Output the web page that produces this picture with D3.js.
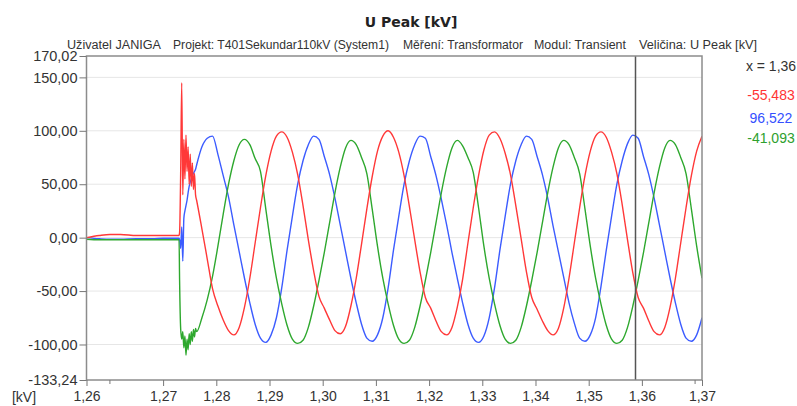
<!DOCTYPE html>
<html><head><meta charset="utf-8">
<script src="https://cdn.jsdelivr.net/npm/d3@7"></script>
<style>body{margin:0;background:#fff} svg{display:block}</style>
</head><body>
<svg id="c" width="797" height="406"></svg>
<script>
// ---- data ----
const timeSec = [
  1.2556, 1.2580, 1.2600, 1.2620, 1.2650, 1.2680, 1.2700, 1.2720, 1.2730,
  1.2731, 1.2733, 1.2735, 1.2737, 1.2739, 1.2741, 1.2743, 1.2745, 1.2747, 1.2749, 1.2751, 1.2753, 1.2755, 1.2757, 1.2759, 1.2761,
  1.2763, 1.2773, 1.2783, 1.2793, 1.2803, 1.2813, 1.2823, 1.2833, 1.2843, 1.2853,
  1.2863, 1.2873, 1.2883, 1.2893, 1.2903, 1.2913, 1.2923, 1.2933, 1.2943, 1.2953,
  1.2963, 1.2973, 1.2983, 1.2993, 1.3003, 1.3013, 1.3023, 1.3033, 1.3043, 1.3053,
  1.3063, 1.3073, 1.3083, 1.3093, 1.3103, 1.3113, 1.3123, 1.3133, 1.3143, 1.3153,
  1.3163, 1.3173, 1.3183, 1.3193, 1.3203, 1.3213, 1.3223, 1.3233, 1.3243, 1.3253,
  1.3263, 1.3273, 1.3283, 1.3293, 1.3303, 1.3313, 1.3323, 1.3333, 1.3343, 1.3353,
  1.3363, 1.3373, 1.3383, 1.3393, 1.3403, 1.3413, 1.3423, 1.3433, 1.3443, 1.3453,
  1.3463, 1.3473, 1.3483, 1.3493, 1.3503, 1.3513, 1.3523, 1.3533, 1.3543, 1.3553,
  1.3563, 1.3573, 1.3583, 1.3593, 1.3603, 1.3613, 1.3623, 1.3633, 1.3643, 1.3653,
  1.3663, 1.3673, 1.3683, 1.3693, 1.3703, 1.3713
];
const phaseRed = [
  0, 2, 3, 3, 2, 2, 2, 2, 2,
  5, 60, 145, 40, 92, 55, 96, 62, 85, 50, 78, 48, 70, 45, 60, 40,
  35, 8, -20, -48, -64, -77, -87, -91, -84, -65, -38, -5, 28, 58, 81, 95, 99, 94, 80, 59,
  30, -2, -31, -55, -66, -77, -87, -90, -83, -64, -38, -6, 27, 57, 81, 95, 100, 94, 80, 58,
  29, -2, -32, -56, -66, -78, -88, -91, -84, -65, -39, -5, 28, 58, 82, 96, 99, 93, 79, 59,
  30, -1, -32, -56, -67, -78, -87, -91, -85, -66, -38, -5, 28, 58, 81, 95, 99, 94, 80, 60,
  31, -2, -33, -56, -66, -78, -88, -91, -84, -65, -38, -5, 28, 58, 81, 95
];
const phaseBlue = [
  0, -1, -1.5, -1.5, -1, -1, -0.5, -0.5, -0.5,
  -2, -10, 10, -22, 18, 25, 30, 35, 42, 48, 52, 55, 58, 60, 62, 64,
  68, 85, 93, 95, 78, 58, 38, 12, -13, -38, -61, -81, -94, -98, -91, -75, -47, -12, 20, 50,
  72, 87, 95, 92, 76, 59, 37, 12, -13, -38, -61, -81, -94, -97, -91, -75, -47, -12, 20, 50,
  72, 87, 95, 93, 76, 58, 36, 12, -14, -38, -61, -81, -94, -98, -92, -75, -47, -12, 20, 50,
  72, 87, 95, 92, 76, 59, 37, 11, -13, -37, -61, -80, -94, -97, -91, -75, -46, -12, 20, 50,
  72, 88, 96, 93, 76, 59, 37, 12, -13, -38, -61, -81, -94, -97, -91, -75
];
const phaseGreen = [
  -1.5, -2, -2, -2, -2, -2, -2, -2, -2,
  -40, -85, -95, -88, -103, -92, -110, -95, -105, -90, -100, -88, -97, -86, -93, -85,
  -88, -75, -58, -36, -8, 22, 50, 72, 87, 92, 87, 74, 62, 27, -8, -38, -62, -82, -95, -99,
  -96, -84, -64, -40, -14, 14, 42, 66, 84, 91, 87, 75, 60, 27, -8, -38, -62, -82, -95, -99,
  -96, -84, -64, -40, -14, 14, 42, 66, 84, 91, 86, 75, 61, 28, -8, -38, -62, -82, -95, -99,
  -96, -84, -64, -40, -14, 14, 42, 66, 84, 91, 87, 75, 60, 27, -8, -38, -62, -82, -95, -99,
  -96, -84, -64, -40, -14, 14, 42, 66, 84, 91, 87, 75, 60, 27, -8, -38
];
const xDomain = [1.2556, 1.3713];
const yDomain = [-133.24, 170.02];
const xTickValues = [1.2556, 1.27, 1.28, 1.29, 1.30, 1.31, 1.32, 1.33, 1.34, 1.35, 1.36, 1.3713];
const xMinorTickValues = [1.26, 1.37];
const yTickValues = [170.02, 150, 100, 50, 0, -50, -100, -133.24];
const yGridValues = [150, 100, 50, 0, -50, -100];
const cursorTime = 1.3588;
const cursorLabel = "x = 1,36";
const readoutValues = [-55.483, 96.522, -41.093];
const titleText = "U Peak [kV]";
const headerParts = ["Uživatel JANIGA", "Projekt: T401Sekundar110kV (System1)", "Měření: Transformator", "Modul: Transient", "Veličina: U Peak [kV]"];
const unitLabel = "[kV]";

// ---- drawing ----
const colors = {red: "#ff3838", blue: "#3c5cff", green: "#2ea82e"};
const textColors = ["#ff3434", "#3450ff", "#2ea02e"];
const m = {left: 86.5, right: 702, top: 56, bottom: 380};
const loc = d3.formatLocale({decimal: ",", thousands: ".", grouping: [3], currency: ["", ""], minus: "-"});
const f2 = loc.format(".2f"), f3 = loc.format(".3f");

const svg = d3.select("#c");
const x = d3.scaleLinear().domain(xDomain).range([m.left, m.right]);
const y = d3.scaleLinear().domain(yDomain).range([m.bottom, m.top]);
const LAB = "'Liberation Sans', Arial, sans-serif";

// grid
svg.append("g").selectAll("line").data(yGridValues).join("line")
  .attr("x1", m.left).attr("x2", m.right)
  .attr("y1", d => y(d)).attr("y2", d => y(d))
  .attr("stroke", "#e6e6e6").attr("stroke-width", 1);

// series
svg.append("clipPath").attr("id", "clip").append("rect")
  .attr("x", m.left).attr("y", m.top).attr("width", m.right - m.left).attr("height", m.bottom - m.top);
const line = d3.line().x(d => x(d[0])).y(d => y(d[1])).curve(d3.curveMonotoneX);
const series = [[phaseBlue, colors.blue], [phaseGreen, colors.green], [phaseRed, colors.red]];
const gL = svg.append("g").attr("clip-path", "url(#clip)");
series.forEach(([vals, col]) => {
  gL.append("path").datum(timeSec.map((t, i) => [t, vals[i]]))
    .attr("d", line).attr("fill", "none").attr("stroke", col)
    .attr("stroke-width", 1.4).attr("stroke-linejoin", "round");
});

// cursor
svg.append("line").attr("x1", x(cursorTime)).attr("x2", x(cursorTime))
  .attr("y1", m.top).attr("y2", m.bottom).attr("stroke", "#555").attr("stroke-width", 1.5);

// frame
svg.append("rect").attr("x", m.left).attr("y", m.top)
  .attr("width", m.right - m.left).attr("height", m.bottom - m.top)
  .attr("fill", "none").attr("stroke", "#8c8c8c").attr("stroke-width", 1.5);

// axes
const yAx = svg.append("g").attr("transform", `translate(${m.left},0)`)
  .call(d3.axisLeft(y).tickValues(yTickValues).tickSize(7).tickPadding(2).tickFormat(f2));
yAx.select(".domain").remove();
yAx.selectAll("line").attr("stroke", "#777");
yAx.selectAll("text").attr("font-family", LAB).attr("font-size", 14.5).attr("fill", "#333");

const xAx = svg.append("g").attr("transform", `translate(0,${m.bottom})`)
  .call(d3.axisBottom(x).tickValues(xTickValues).tickSize(6).tickPadding(5.5).tickFormat(f2));
xAx.select(".domain").remove();
xAx.selectAll("line").attr("stroke", "#777");
xAx.selectAll("text").attr("font-family", LAB).attr("font-size", 14).attr("fill", "#333");
svg.append("g").selectAll("line").data(xMinorTickValues).join("line")
  .attr("x1", d => x(d)).attr("x2", d => x(d)).attr("y1", m.bottom).attr("y2", m.bottom + 4)
  .attr("stroke", "#777");

svg.append("text").attr("x", 24).attr("y", 401.5).attr("text-anchor", "middle")
  .attr("font-family", LAB).attr("font-size", 14).attr("fill", "#333").text(unitLabel);

// title & header
svg.append("text").attr("x", 411).attr("y", 27).attr("text-anchor", "middle")
  .attr("font-family", "'DejaVu Sans', Verdana, sans-serif").attr("font-weight", "bold")
  .attr("font-size", 14).attr("fill", "#222").text(titleText);
const headerX = [67, 173, 403, 534, 639];
const headerW = [94, 216, 120, 92, 118];
svg.append("g").selectAll("text").data(headerParts).join("text")
  .attr("x", (d, i) => headerX[i]).attr("y", 49)
  .attr("font-family", LAB).attr("font-size", 12.5).attr("fill", "#333")
  .attr("textLength", (d, i) => headerW[i]).attr("lengthAdjust", "spacingAndGlyphs")
  .text(d => d);

// readout
svg.append("text").attr("x", 771).attr("y", 65.5).attr("text-anchor", "middle")
  .attr("dominant-baseline", "central").attr("font-family", LAB).attr("font-size", 14)
  .attr("fill", "#333").text(cursorLabel);
const readY = [95, 118, 138];
svg.append("g").selectAll("text").data(readoutValues).join("text")
  .attr("x", 771).attr("y", (d, i) => readY[i]).attr("text-anchor", "middle")
  .attr("dominant-baseline", "central").attr("font-family", LAB).attr("font-size", 14)
  .attr("fill", (d, i) => textColors[i]).text(d => f3(d));
</script>
</body></html>
